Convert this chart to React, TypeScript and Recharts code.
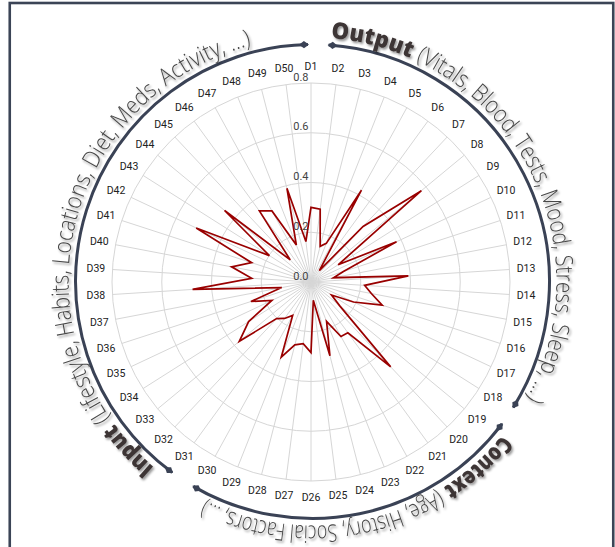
import { RadarChart, Radar, PolarGrid, PolarAngleAxis, PolarRadiusAxis } from "recharts";

const W = 615;
const H = 547;
const CX = 311;
const CY = 282;
const OUTER_R = 199;
const LABEL_R = 215.5;

// decoration ring (arcs + curved captions)
const ACX = 312.5;
const ACY = 281.5;
const ARC_R = 237;
const TEXT_R = 244;

const DIMENSIONS = [
  "D1", "D2", "D3", "D4", "D5", "D6", "D7", "D8", "D9", "D10",
  "D11", "D12", "D13", "D14", "D15", "D16", "D17", "D18", "D19", "D20",
  "D21", "D22", "D23", "D24", "D25", "D26", "D27", "D28", "D29", "D30",
  "D31", "D32", "D33", "D34", "D35", "D36", "D37", "D38", "D39", "D40",
  "D41", "D42", "D43", "D44", "D45", "D46", "D47", "D48", "D49", "D50",
];

const SCORES = [
  0.30, 0.295, 0.148, 0.167, 0.421, 0.057, 0.306, 0.576, 0.129, 0.38,
  0.137, 0.092, 0.392, 0.216, 0.247, 0.301, 0.189, 0.098, 0.149, 0.468,
  0.252, 0.25, 0.17, 0.306, 0.074, 0.284, 0.25, 0.261, 0.325, 0.153,
  0.181, 0.202, 0.374, 0.297, 0.174, 0.254, 0.12, 0.477, 0.239, 0.325,
  0.251, 0.51, 0.198, 0.451, 0.122, 0.353, 0.326, 0.16, 0.389, 0.164,
];

const RADIUS_TICKS = [0, 0.2, 0.4, 0.6, 0.8];

// arcs: [startDeg, endDeg], clockwise from 12 o'clock
const ARCS = [
  [3.9, 122.1],
  [126.9, 210.2],
  [216.3, 358.9],
];

const CAPTION_TITLES = ["Output", "Context", "Input"];
const CAPTION_DETAILS = [
  "(Vitals, Blood, Tests, Mood, Stress, Sleep, ...)",
  "(Age, History, Social Factors, ...)",
  "(Lifestyle, Habits, Locations, Diet, Meds, Activity, ...)",
];
// [titleStart, titleEnd, detailStart, detailEnd] in degrees
const CAPTION_ANGLES = [
  [4.3, 23.6, 25.0, 118.6],
  [129.0, 147.6, 149.0, 206.0],
  [220.4, 234.4, 236.0, 345.5],
];

const rad = (d: number) => (d * Math.PI) / 180;

function polar(r: number, deg: number) {
  return [ACX + r * Math.sin(rad(deg)), ACY - r * Math.cos(rad(deg))];
}

function arcPath(r: number, a0: number, a1: number) {
  const [x0, y0] = polar(r, a0);
  const [x1, y1] = polar(r, a1);
  const large = a1 - a0 > 180 ? 1 : 0;
  return `M${x0},${y0} A${r},${r} 0 ${large} 1 ${x1},${y1}`;
}

function AngleTick(props: any) {
  const { x, y, payload } = props;
  const dx = x - CX;
  const dy = y - CY;
  const d = Math.hypot(dx, dy) || 1;
  return (
    <text
      x={CX + (dx / d) * LABEL_R}
      y={CY + (dy / d) * LABEL_R}
      textAnchor="middle"
      dominantBaseline="central"
      fontSize={10.5}
      fontFamily="Roboto, Arial, sans-serif"
      fill="#222"
    >
      {payload.value}
    </text>
  );
}

function RadiusTick(props: any) {
  const { x, y, payload } = props;
  return (
    <text
      x={x - 2.5}
      y={y - 6}
      textAnchor="end"
      dominantBaseline="central"
      fontSize={11}
      fontFamily="Roboto, Arial, sans-serif"
      fill="#444"
    >
      {Number(payload.value).toFixed(1)}
    </text>
  );
}

export default function App() {
  const data = DIMENSIONS.map((dim, i) => ({ dim, value: SCORES[i] }));

  return (
    <div style={{ position: "absolute", left: 0, top: 0, width: W, height: H, background: "#fff" }}>
      <RadarChart
        width={W}
        height={H}
        data={data}
        cx={CX}
        cy={CY}
        outerRadius={OUTER_R}
        margin={{ top: 0, right: 0, bottom: 0, left: 0 }}
      >
        <PolarGrid gridType="circle" stroke="#d6d6d6" />
        <PolarAngleAxis dataKey="dim" tick={AngleTick} axisLine={false} tickLine={false} />
        <PolarRadiusAxis
          type="number"
          angle={90}
          domain={[0, 0.8]}
          ticks={RADIUS_TICKS}
          tickCount={5}
          allowDecimals
          allowDataOverflow
          tick={RadiusTick}
          axisLine={false}
          tickLine={false}
        />
        <Radar
          dataKey="value"
          stroke="#990000"
          strokeWidth={1.7}
          fill="none"
          fillOpacity={0}
          dot={{ r: 2.4, fill: "#990000", stroke: "none" }}
          isAnimationActive={false}
        />
      </RadarChart>

      <svg width={W} height={H} style={{ position: "absolute", left: 0, top: 0, pointerEvents: "none" }}>
        <defs>
          <marker id="tip" viewBox="-10 -5 12 10" refX={0} refY={0} markerWidth={12} markerHeight={10}
            markerUnits="userSpaceOnUse" orient="auto-start-reverse">
            <path d="M1,0 L-4,-3.6 L-9,0 L-4,3.6 Z" fill="#3a4255" />
          </marker>
          <filter id="shadow" x="-10%" y="-10%" width="120%" height="130%">
            <feDropShadow dx="1.5" dy="2" stdDeviation="1.3" floodColor="#000" floodOpacity="0.4" />
          </filter>
          {CAPTION_ANGLES.map(([a0], i) => (
            <path key={i} id={`cap${i}`} d={arcPath(TEXT_R, a0, a0 + 175)} fill="none" />
          ))}
        </defs>

        <rect x={9.75} y={3} width={603.5} height={580} fill="none" stroke="#3b4456" strokeWidth={2.6} />

        {ARCS.map(([a0, a1], i) => (
          <path
            key={i}
            d={arcPath(ARC_R, a0, a1)}
            fill="none"
            stroke="#3a4255"
            strokeWidth={3}
            markerStart="url(#tip)"
            markerEnd="url(#tip)"
          />
        ))}

        {CAPTION_ANGLES.map(([t0, t1, d0, d1], i) => (
          <g key={i} filter="url(#shadow)">
            <text fontFamily="'Open Sans', sans-serif" fontSize={23} fontWeight={800} fill="#3d3535">
              <textPath
                href={`#cap${i}`}
                startOffset={0}
                textLength={TEXT_R * rad(t1 - t0)}
                lengthAdjust="spacingAndGlyphs"
              >
                {CAPTION_TITLES[i]}
              </textPath>
            </text>
            <text fontFamily="'Open Sans', sans-serif" fontSize={24} fontWeight={300} fill="#484848">
              <textPath
                href={`#cap${i}`}
                startOffset={TEXT_R * rad(d0 - t0)}
                textLength={TEXT_R * rad(d1 - d0)}
                lengthAdjust="spacingAndGlyphs"
              >
                {CAPTION_DETAILS[i]}
              </textPath>
            </text>
          </g>
        ))}
      </svg>
    </div>
  );
}
